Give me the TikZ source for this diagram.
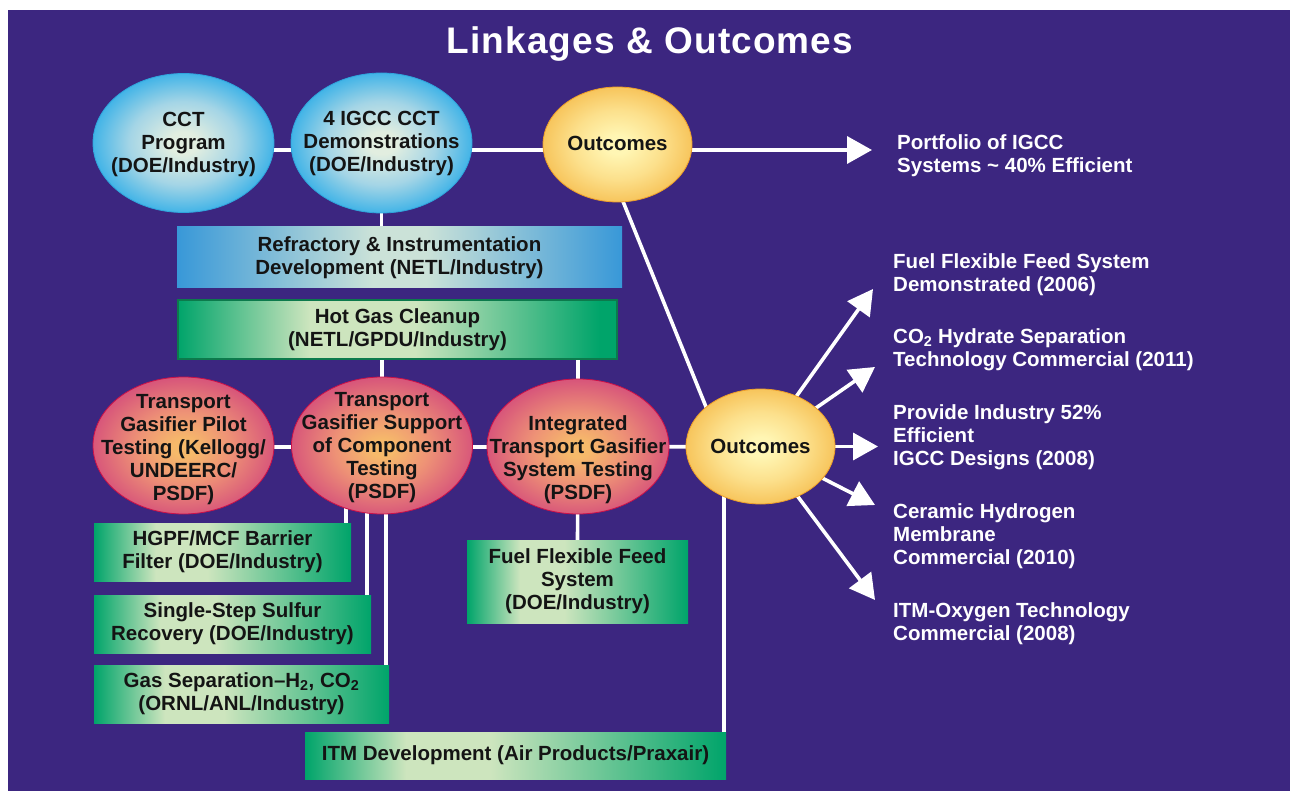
\documentclass[tikz,border=0pt]{standalone}
\usepackage{fontspec}
\setmainfont{Liberation Sans}
\newfontfamily\titlefont[LetterSpace=3]{Liberation Sans}
\usetikzlibrary{arrows.meta,shapes.geometric}
\definecolor{bgpurple}{HTML}{3C2680}
\definecolor{blueIn}{HTML}{E2EEE0}
\definecolor{blueMid}{HTML}{A4D5E6}
\definecolor{blueOut}{HTML}{42B4E7}
\definecolor{blueRim}{HTML}{2FA4DC}
\definecolor{yelIn}{HTML}{FFF6B4}
\definecolor{yelMid}{HTML}{FCE08C}
\definecolor{yelOut}{HTML}{F7C55C}
\definecolor{yelRim}{HTML}{EE9E28}
\definecolor{redIn}{HTML}{F6BA6A}
\definecolor{redMid}{HTML}{EE9276}
\definecolor{redOut}{HTML}{D8577A}
\definecolor{redRim}{HTML}{CC1048}
\definecolor{gEdge}{HTML}{00A46A}
\definecolor{gLight}{HTML}{CDE5BE}
\definecolor{gRim}{HTML}{0C7A4C}
\definecolor{bEdge}{HTML}{3898D8}
\definecolor{bLight}{HTML}{CBE2D8}
\definecolor{inktext}{HTML}{141414}
\pgfdeclareradialshading{blueball}{\pgfpoint{0bp}{0bp}}{color(0bp)=(blueIn); color(4bp)=(blueIn); color(15bp)=(blueMid); color(25bp)=(blueOut); color(50bp)=(blueOut)}
\pgfdeclareradialshading{yelball}{\pgfpoint{0bp}{0bp}}{color(0bp)=(yelIn); color(4bp)=(yelIn); color(15bp)=(yelMid); color(25bp)=(yelOut); color(50bp)=(yelOut)}
\pgfdeclareradialshading{redball}{\pgfpoint{0bp}{-1bp}}{color(0bp)=(redIn); color(3bp)=(redIn); color(13bp)=(redMid); color(25bp)=(redOut); color(50bp)=(redOut)}
\pgfdeclarehorizontalshading{greenbar}{100bp}{color(0bp)=(gEdge); color(25bp)=(gEdge); color(37bp)=(gLight); color(47bp)=(gLight); color(75bp)=(gEdge); color(100bp)=(gEdge)}
\pgfdeclarehorizontalshading{hotbar}{100bp}{color(0bp)=(gEdge); color(25bp)=(gEdge); color(40bp)=(gLight); color(52bp)=(gLight); color(73bp)=(gEdge); color(100bp)=(gEdge)}
\pgfdeclarehorizontalshading{bluebar}{100bp}{color(0bp)=(bEdge); color(25bp)=(bEdge); color(47bp)=(bLight); color(53bp)=(bLight); color(75bp)=(bEdge); color(100bp)=(bEdge)}
\pgfdeclarelayer{back}
\pgfdeclarelayer{wires}
\pgfsetlayers{back,wires,main}
\begin{document}
\begin{tikzpicture}[x=1pt,y=-1pt,
  wire/.style={draw=white, line width=3.6pt},
  arrowwire/.style={wire, -{Triangle[length=25pt,width=27pt]}},
  ellbase/.style={ellipse, inner sep=0pt, line width=0.8pt},
  blueell/.style={ellbase, shading=blueball, draw=blueRim},
  yelell/.style={ellbase, shading=yelball, draw=yelRim},
  redell/.style={ellbase, shading=redball, draw=redRim},
  bodyfont/.style={font=\bfseries\fontsize{20.5pt}{23pt}\selectfont},
  etext/.style={bodyfont, text=inktext, align=center, inner sep=0pt},
  boxbase/.style={rectangle, inner sep=0pt, bodyfont, text=inktext, align=center},
  gbox/.style={boxbase, shading=greenbar},
  hotbox/.style={boxbase, shading=hotbar, draw=gRim, line width=1.5pt},
  bbox/.style={boxbase, shading=bluebar},
  outtext/.style={bodyfont, text=white, align=left, anchor=west, inner sep=0pt}
]
\useasboundingbox (0,0) rectangle (1290,791);
\begin{pgfonlayer}{back}
  \fill[white] (0,0) rectangle (1290,791);
  \fill[bgpurple] (8,10) rectangle (1290,791);
\end{pgfonlayer}

% title
\node[text=white, font=\titlefont\bfseries\fontsize{37pt}{40pt}\selectfont, inner sep=0pt] (title) at (650,44) {Linkages \& Outcomes};

% top row ellipses
\node[blueell, minimum width=181pt, minimum height=139pt] (cct) at (183.5,143) {};
\node[etext] (cctt) at (183.5,144) {CCT\\Program\\(DOE/Industry)};
\node[blueell, minimum width=181pt, minimum height=140pt] (igcc) at (381.5,143) {};
\node[etext] (igcct) at (381.5,143) {4 IGCC CCT\\Demonstrations\\(DOE/Industry)};
\node[yelell, minimum width=149pt, minimum height=115pt] (out1) at (617.5,144.5) {};
\node[etext] (out1t) at (617.5,143.5) {Outcomes};

% boxes
\node[bbox, minimum width=445pt, minimum height=61pt] (refr) at (399.5,257.5) {Refractory \& Instrumentation\\Development (NETL/Industry)};
\node[hotbox, minimum width=439pt, minimum height=59pt] (hotgas) at (397.5,329.5) {Hot Gas Cleanup\\(NETL/GPDU/Industry)};

% middle row ellipses
\node[redell, minimum width=181pt, minimum height=137pt] (pilot) at (183.5,445.5) {};
\node[etext] (pilott) at (183.5,449.5) {Transport\\Gasifier Pilot\\Testing (Kellogg/\\UNDEERC/\\PSDF)};
\node[redell, minimum width=181pt, minimum height=137pt] (support) at (382,445.5) {};
\node[etext] (supportt) at (382,448) {Transport\\Gasifier Support\\of Component\\Testing\\(PSDF)};
\node[redell, minimum width=182pt, minimum height=135pt] (integ) at (578,446.5) {};
\node[etext] (integt) at (578,459.5) {Integrated\\Transport Gasifier\\System Testing\\(PSDF)};
\node[yelell, minimum width=149pt, minimum height=115pt] (out2) at (760.5,446.5) {};
\node[etext] (out2t) at (760.5,446.5) {Outcomes};

% lower boxes
\node[gbox, minimum width=257pt, minimum height=58pt] (hgpf) at (222.5,552) {HGPF/MCF Barrier\\Filter (DOE/Industry)};
\node[gbox, minimum width=277pt, minimum height=58pt] (sulfur) at (232.5,624) {Single-Step Sulfur\\Recovery (DOE/Industry)};
\node[gbox, minimum width=295pt, minimum height=58pt] (gassep) at (241.5,694) {Gas Separation–H\textsubscript{2}, CO\textsubscript{2}\\(ORNL/ANL/Industry)};
\node[gbox, minimum width=221pt, minimum height=83pt] (fuel) at (577.5,581.5) {Fuel Flexible Feed\\System\\(DOE/Industry)};
\node[gbox, minimum width=421pt, minimum height=47pt] (itm) at (515.5,755.5) {ITM Development (Air Products/Praxair)};

% right texts
\node[outtext] (r0) at (897,155.5) {Portfolio of IGCC\\Systems \textasciitilde{} 40\% Efficient};
\node[outtext] (r1) at (893,274.5) {Fuel Flexible Feed System\\Demonstrated (2006)};
\node[outtext] (r2) at (893,350) {CO\textsubscript{2} Hydrate Separation\\Technology Commercial (2011)};
\node[outtext] (r3) at (893,437) {Provide Industry 52\%\\Efficient\\IGCC Designs (2008)};
\node[outtext] (r4) at (893,536) {Ceramic Hydrogen\\Membrane\\Commercial (2010)};
\node[outtext] (r5) at (893,624) {ITM-Oxygen Technology\\Commercial (2008)};

% arrow tips
\coordinate (t0) at (872,150);
\coordinate (t1) at (873,289);
\coordinate (t2) at (875,367);
\coordinate (t3) at (878,446.5);
\coordinate (t4) at (875,505);
\coordinate (t5) at (875,600);

% helper coordinates for wire drops
\coordinate (h1) at ([xshift=-5pt]hgpf.north east);
\coordinate (h2) at ([xshift=-4pt]sulfur.north east);
\coordinate (h3) at ([xshift=-3pt]gassep.north east);
\coordinate (h4) at ([xshift=-2.5pt]itm.north east);

\begin{pgfonlayer}{wires}
  \draw[wire] ([yshift=-7pt]cct.center) -- ([yshift=-7pt]igcc.center) -- ([yshift=-5.5pt]out1.center);
  \draw[arrowwire] ([yshift=-5.5pt]out1.center) -- (t0);
  \draw[wire] (igcc.center) -- (refr.north -| igcc.center);
  \draw[wire] (hotgas.south -| support.center) -- (support.center);
  \draw[wire] (hotgas.south -| integ.center) -- (integ.center);
  \draw[wire] ([yshift=-1.5pt]pilot.center) -- ([yshift=-1.5pt]support.center) -- ([yshift=-0.5pt]integ.center) -- (out2.center);
  \draw[wire] ([xshift=-17.5pt]out1.center) -- ([xshift=-38.5pt]out2.center);
  \draw[wire] (h1) -- (h1 |- support.center);
  \draw[wire] (h2) -- (h2 |- support.center);
  \draw[wire] (h3) -- (h3 |- support.center);
  \draw[wire] (integ.center) -- (fuel.north);
  \draw[wire] (h4) -- (h4 |- out2.center);
  \draw[arrowwire] (out2.center) -- (t1);
  \draw[arrowwire] (out2.center) -- (t2);
  \draw[arrowwire] (out2.center) -- (t3);
  \draw[arrowwire] (out2.center) -- (t4);
  \draw[arrowwire] (out2.center) -- (t5);
\end{pgfonlayer}
\end{tikzpicture}
\end{document}
